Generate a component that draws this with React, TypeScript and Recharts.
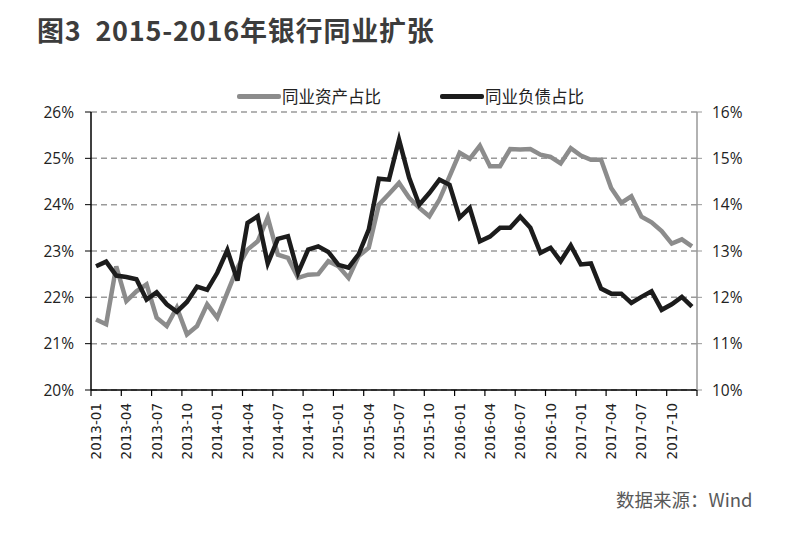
import React from 'react';
import { CartesianGrid, Line, LineChart, XAxis, YAxis } from 'recharts';

// 月份：2013-01 至 2017-12
const months: string[] = [];
for (let y = 2013; y <= 2017; y++) {
	for (let m = 1; m <= 12; m++) {
		months.push(`${y}-${String(m).padStart(2, '0')}`);
	}
}

// 同业资产占比（左轴，%）
const assetShare = [
	21.52, 21.42, 22.67, 21.92, 22.13, 22.28, 21.56, 21.38, 21.78, 21.2,
	21.38, 21.85, 21.56, 22.1, 22.64, 23.03, 23.21, 23.72, 22.92, 22.85,
	22.42, 22.49, 22.5, 22.78, 22.67, 22.42, 22.89, 23.07, 24.0, 24.23,
	24.47, 24.15, 23.93, 23.75, 24.11, 24.61, 25.12, 24.99, 25.27, 24.83,
	24.83, 25.2, 25.19, 25.2, 25.08, 25.03, 24.89, 25.22, 25.06, 24.97,
	24.97, 24.36, 24.04, 24.18, 23.74, 23.62, 23.43, 23.16, 23.25, 23.1,
];

// 同业负债占比（右轴，%）
const liabilityShare = [
	12.67, 12.77, 12.47, 12.44, 12.39, 11.95, 12.11, 11.85, 11.69, 11.9,
	12.23, 12.16, 12.53, 13.02, 12.36, 13.61, 13.75, 12.73, 13.26, 13.32,
	12.53, 13.03, 13.1, 12.98, 12.7, 12.64, 12.93, 13.46, 14.56, 14.54,
	15.4, 14.58, 14.0, 14.25, 14.54, 14.43, 13.72, 13.93, 13.21, 13.31,
	13.5, 13.5, 13.74, 13.5, 12.96, 13.07, 12.78, 13.12, 12.71, 12.73,
	12.19, 12.08, 12.08, 11.88, 12.01, 12.13, 11.73, 11.85, 12.01, 11.8,
];

const leftTicks = [20, 21, 22, 23, 24, 25, 26];
const rightTicks = [10, 11, 12, 13, 14, 15, 16];

const data = months.map((m, i) => ({
	month: m,
	asset: assetShare[i],
	liability: liabilityShare[i],
}));

const W = 790;
const H = 533;
const PLOT_LEFT = 91;
const PLOT_RIGHT = 697;
const PLOT_TOP = 112;
const PLOT_BOTTOM = 390;
const X_AXIS_H = 70;
const HALF_BAND = (PLOT_RIGHT - PLOT_LEFT) / months.length / 2;

const GRAY = '#8c8c8c';
const BLACK = '#1c1c1c';
const CJK = '"Noto Sans CJK SC", "Noto Sans", sans-serif';

function MonthTick(props: any) {
	const { x, y, payload } = props;
	const tx = x - HALF_BAND;
	const isLast = payload.value === '2017-10';
	return (
		<g>
			<line x1={tx} y1={y} x2={tx} y2={y + 6} stroke="#000" strokeWidth={1.2} />
			{isLast && (
				<line
					x1={tx + HALF_BAND * 6}
					y1={y}
					x2={tx + HALF_BAND * 6}
					y2={y + 6}
					stroke="#000"
					strokeWidth={1.2}
				/>
			)}
			<text
				x={x}
				y={y + 13}
				transform={`rotate(-90, ${x}, ${y + 13})`}
				textAnchor="end"
				dominantBaseline="central"
				fontFamily="DejaVu Sans"
				fontSize={13.5}
				fill="#222"
			>
				{payload.value}
			</text>
		</g>
	);
}

function LegendItem({ color, label, left }: { color: string; label: string; left: number }) {
	return (
		<div style={{ position: 'absolute', left, top: 85, display: 'flex', alignItems: 'center' }}>
			<div style={{ width: 44, height: 5, background: color, borderRadius: 2 }} />
			<span style={{ marginLeft: 1, fontFamily: CJK, fontSize: 16.5, color: '#222', lineHeight: '22px' }}>
				{label}
			</span>
		</div>
	);
}

export default function App() {
	return (
		<div style={{ position: 'relative', width: W, height: H, margin: -8, background: '#fff' }}>
			<div
				style={{
					position: 'absolute',
					left: 37,
					top: 12,
					fontFamily: CJK,
					fontWeight: 700,
					fontSize: 27,
					letterSpacing: 0.8,
					lineHeight: '36px',
					color: '#3c3c3c',
					whiteSpace: 'pre',
				}}
			>
				{'图3  2015-2016年银行同业扩张'}
			</div>

			<LegendItem color={GRAY} label="同业资产占比" left={237} />
			<LegendItem color={BLACK} label="同业负债占比" left={440} />

			<LineChart
				width={W}
				height={H}
				data={data}
				margin={{ top: PLOT_TOP, right: 0, bottom: H - PLOT_BOTTOM - X_AXIS_H, left: 0 }}
				style={{ position: 'absolute', left: 0, top: 0 }}
			>
				<CartesianGrid
					vertical={false}
					yAxisId="left"
					stroke="#9a9a9a"
					strokeWidth={1.5}
					strokeDasharray="6 4"
				/>
				<XAxis
					dataKey="month"
					height={X_AXIS_H}
					padding={{ left: HALF_BAND, right: HALF_BAND }}
					interval={2}
					tickLine={false}
					tickSize={0}
					tickMargin={0}
					axisLine={{ stroke: '#000', strokeWidth: 1.5 }}
					tick={<MonthTick />}
				/>
				<YAxis
					yAxisId="left"
					orientation="left"
					width={PLOT_LEFT}
					domain={[20, 26]}
					ticks={leftTicks}
					tickFormatter={(v) => `${v}%`}
					axisLine={{ stroke: '#000', strokeWidth: 1.5 }}
					tickLine={{ stroke: '#000' }}
					tickSize={6}
					tickMargin={11}
					tick={{ fontFamily: 'Open Sans', fontSize: 15.5, fill: '#222' }}
				/>
				<YAxis
					yAxisId="right"
					orientation="right"
					width={W - PLOT_RIGHT}
					domain={[10, 16]}
					ticks={rightTicks}
					tickFormatter={(v) => `${v}%`}
					axisLine={{ stroke: '#999', strokeWidth: 1.5 }}
					tickLine={{ stroke: '#999' }}
					tickSize={5}
					tickMargin={10}
					tick={{ fontFamily: 'Open Sans', fontSize: 15.5, fill: '#222' }}
				/>
				<Line
					yAxisId="left"
					type="linear"
					dataKey="asset"
					stroke={GRAY}
					strokeWidth={4.5}
					dot={false}
					isAnimationActive={false}
				/>
				<Line
					yAxisId="right"
					type="linear"
					dataKey="liability"
					stroke={BLACK}
					strokeWidth={4.5}
					dot={false}
					isAnimationActive={false}
				/>
			</LineChart>

			<div
				style={{
					position: 'absolute',
					left: 616,
					top: 486,
					fontFamily: CJK,
					fontSize: 18.5,
					lineHeight: '26px',
					color: '#595959',
				}}
			>
				数据来源：Wind
			</div>
		</div>
	);
}
